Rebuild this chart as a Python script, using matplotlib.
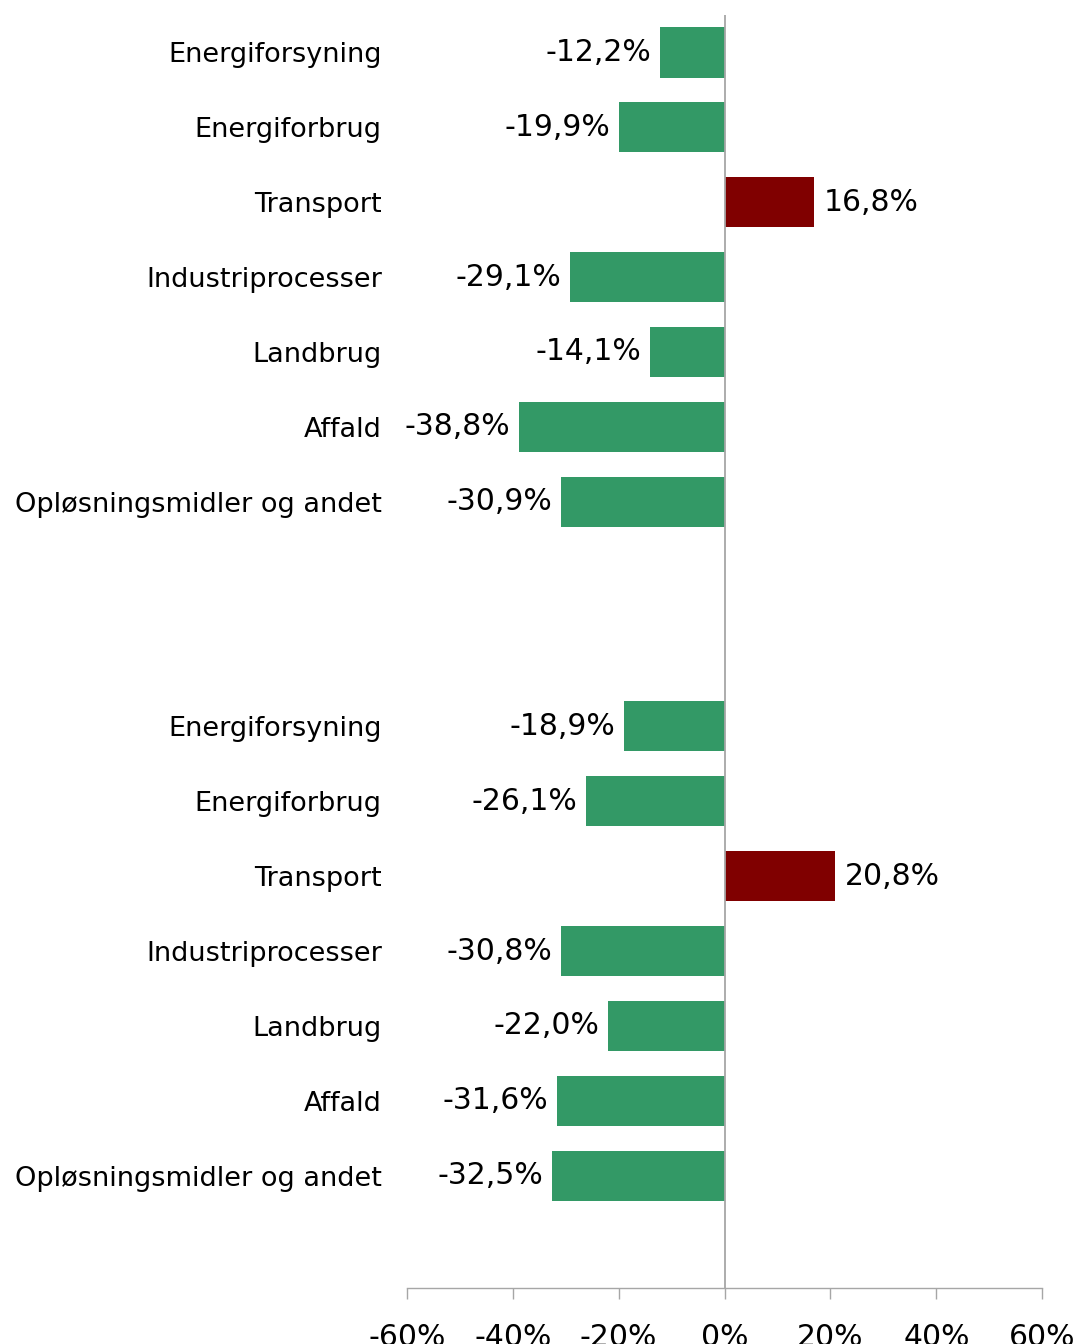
import numpy as np
import matplotlib.pyplot as plt

# data (two groups, same sectors)
sectors = ["Energiforsyning", "Energiforbrug", "Transport", "Industriprocesser",
           "Landbrug", "Affald", "Opløsningsmidler og andet"]
group1 = [-12.2, -19.9, 16.8, -29.1, -14.1, -38.8, -30.9]
group2 = [-18.9, -26.1, 20.8, -30.8, -22.0, -31.6, -32.5]
xticks = [-60, -40, -20, 0, 20, 40, 60]

green = "#339966"
red = "#800000"

plt.rcParams["font.family"] = ["DejaVu Sans"]

fig = plt.figure(figsize=(10.79, 13.44), dpi=100)
ax = fig.add_axes([0.377, 0.0417, 0.589, 0.9471])

# slot positions: group 1 at 0..6, group 2 at 9..15
pos1 = np.arange(len(sectors))
pos2 = pos1 + 9
pos = np.concatenate([pos1, pos2])
vals = np.array(group1 + group2)
colors = [red if v > 0 else green for v in vals]

ax.barh(pos, vals, height=0.67, color=colors, zorder=2)

for p, v in zip(pos, vals):
    txt = f"{v:.1f}%".replace(".", ",")
    if v < 0:
        ax.annotate(txt, (v, p), xytext=(-9, 0), textcoords="offset pixels",
                    ha="right", va="center", fontsize=21.5)
    else:
        ax.annotate(txt, (v, p), xytext=(10, 0), textcoords="offset pixels",
                    ha="left", va="center", fontsize=21.5)

ax.axvline(0, color="#a6a6a6", lw=1.3, zorder=3)

ax.set_xlim(-60, 60)
ax.set_ylim(16.5, -0.5)
ax.set_xticks(xticks)
ax.set_xticklabels([f"{t}%" for t in xticks], fontsize=21.5)
ax.set_yticks(pos)
ax.set_yticklabels(sectors + sectors, fontsize=19.5)

ax.tick_params(axis="y", length=0, pad=18)
ax.tick_params(axis="x", length=8, color="#a6a6a6", width=1, pad=17)

for side in ["top", "right", "left"]:
    ax.spines[side].set_visible(False)
ax.spines["bottom"].set_color("#a6a6a6")
ax.spines["bottom"].set_linewidth(1)

fig.savefig("out.png", dpi=100)
